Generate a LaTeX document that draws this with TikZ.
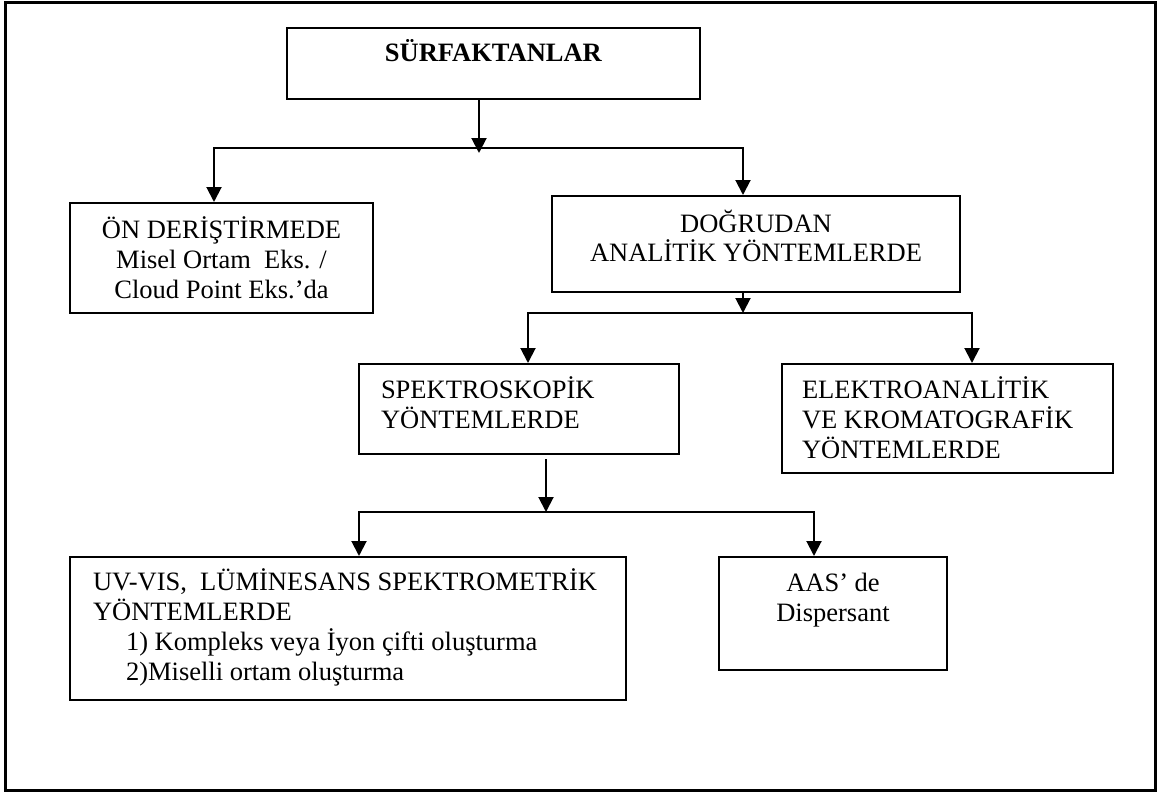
\documentclass[tikz,border=0pt]{standalone}
\usepackage{fontspec}
\setmainfont{Liberation Serif}
\usetikzlibrary{arrows.meta}
% box body: width, height, top skip, alignment, text
\newcommand{\boxtext}[5]{%
	\begin{minipage}[t][#2pt][t]{#1pt}#4\relax\vspace*{#3pt}\rule{0pt}{24pt}#5\end{minipage}}

\begin{document}
\begin{tikzpicture}[
	x=1pt,y=-1pt,
	blocknode/.style={
		rectangle,draw=black,line width=2pt,inner sep=0pt,
		font=\fontsize{26.5pt}{30pt}\selectfont},
	link/.style={->,line width=2pt},
	fork/.style={<->,line width=2pt},
	>={Triangle[length=15pt,width=15pt]}
	]
	\useasboundingbox (0,0) rectangle (1160,792);
	\draw[line width=3pt] (5,3) rectangle (1155,790);
	% TOP
	\node [blocknode] (sur) at (493.5,63.5) {\boxtext{413}{71}{10}{\centering}{\textbf{SÜRFAKTANLAR}}};
	\node [blocknode] (ondr) at (221.5,258) {\boxtext{303}{110}{11.5}{\centering}{ÖN DERİŞTİRMEDE\\Misel Ortam\ \ Eks. /\\Cloud Point Eks.’da}};
	\node [blocknode] (dogr) at (756,244) {\boxtext{408}{96}{12}{\centering}{DOĞRUDAN\\ANALİTİK YÖNTEMLERDE}};
	\coordinate (jA) at (479,148);
	\draw [link] ([xshift=-14.5pt]sur.south) -- ([yshift=-5pt]jA);
	\draw [fork] ([xshift=-7.5pt]ondr.north) |- (jA) -| ([xshift=-13pt]dogr.north);
	% DOGRUDAN
	\node [blocknode] (spek) at (519,409) {\boxtext{320}{90}{10}{\raggedright\leftskip=22pt}{SPEKTROSKOPİK\\YÖNTEMLERDE}};
	\node [blocknode] (elek) at (947.5,418.5) {\boxtext{331}{109}{10.5}{\raggedright\leftskip=20pt}{ELEKTROANALİTİK\\VE KROMATOGRAFİK\\YÖNTEMLERDE}};
	\coordinate (jB) at (743,313);
	\draw [link] ([xshift=-13pt]dogr.south) -- (jB);
	\draw [fork] ([xshift=9pt]spek.north) |- (jB) -| ([xshift=24.5pt]elek.north);
	% SPEKTROSKOPIK
	\node [blocknode] (uvvis) at (348,628.5) {\boxtext{556}{143}{9}{\raggedright\leftskip=23pt}{UV-VIS,\ \ LÜMİNESANS SPEKTROMETRİK\\YÖNTEMLERDE\\\hspace*{33pt}1) Kompleks veya İyon çifti oluşturma\\\hspace*{33pt}2)Miselli ortam oluşturma}};
	\node [blocknode] (aas) at (833,613.5) {\boxtext{228}{113}{10.5}{\centering}{AAS’ de\\Dispersant}};
	\coordinate (jC) at (546,512);
	\draw [link] ([xshift=27pt,yshift=-4pt]spek.south) -- (jC);
	\draw [fork] ([xshift=11pt]uvvis.north) |- (jC) -| ([xshift=-19pt]aas.north);
\end{tikzpicture}
\end{document}
